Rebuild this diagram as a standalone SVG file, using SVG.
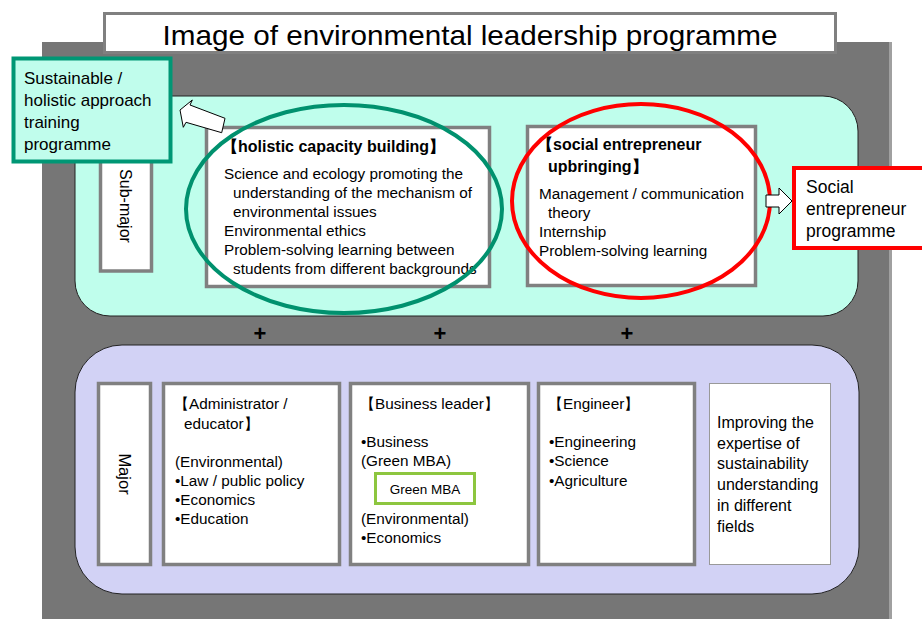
<svg xmlns="http://www.w3.org/2000/svg" width="922" height="619" viewBox="0 0 922 619">
<style>
text{font-family:"Liberation Sans",Arial,sans-serif;fill:#000}
.t14{font-size:15.3px}
.t15{font-size:16.5px}
.b{font-weight:bold;font-size:16px}
.gbox{fill:#fff;stroke:#808080;stroke-width:3.5}
.arrow{fill:#fff;stroke:#000;stroke-width:1}
.plus{font-size:22px;font-weight:bold}
</style>
<rect x="0" y="0" width="922" height="619" fill="#fff"/>
<g id="background">
<rect x="42" y="42" width="849" height="577" fill="#767676"/>
<rect x="889" y="42" width="3" height="577" fill="#a0a0a0"/>
</g>
<g id="title">
<rect x="104.5" y="13.5" width="731" height="39" fill="#fff" stroke="#808080" stroke-width="3"/>
<text x="470" y="45" font-size="28" text-anchor="middle" textLength="615" lengthAdjust="spacingAndGlyphs">Image of environmental leadership programme</text>
</g>
<g id="submajor-panel">
<path d="M110,96 H823 A35,35 0 0 1 858,131 V281 A35,35 0 0 1 823,316 H110 A35,35 0 0 1 75,281 V131 A35,35 0 0 1 110,96 Z" fill="#bffeec" stroke="#222" stroke-width="1"/>
</g>
<g id="major-panel">
<path d="M122,345 H812 A47,47 0 0 1 859,392 V547 A47,47 0 0 1 812,594 H122 A47,47 0 0 1 75,547 V392 A47,47 0 0 1 122,345 Z" fill="#d2d2f5" stroke="#222" stroke-width="1"/>
</g>
<g id="submajor-label">
<rect x="100.5" y="129" width="51" height="142" class="gbox"/>
<text transform="translate(120,206) rotate(90)" font-size="16" text-anchor="middle">Sub-major</text>
</g>
<g id="holistic">
<rect x="206.5" y="127.5" width="283" height="159" class="gbox"/>
<text x="222" y="152" class="b">【holistic capacity building】</text>
<text class="t14">
<tspan x="224" y="179">Science and ecology promoting the</tspan>
<tspan x="233" y="198">understanding of the mechanism of</tspan>
<tspan x="233" y="217">environmental issues</tspan>
<tspan x="224" y="236">Environmental ethics</tspan>
<tspan x="224" y="255">Problem-solving learning between</tspan>
<tspan x="233" y="274">students from different backgrounds</tspan>
</text>
</g>
<g id="social">
<rect x="527.5" y="126.5" width="228" height="159" class="gbox"/>
<text x="537" y="150" class="b">【social entrepreneur</text>
<text x="548" y="172" class="b">upbringing】</text>
<text class="t14">
<tspan x="539" y="199">Management / communication</tspan>
<tspan x="548" y="218">theory</tspan>
<tspan x="539" y="237">Internship</tspan>
<tspan x="539" y="256">Problem-solving learning</tspan>
</text>
</g>
<g id="ellipses">
<ellipse cx="344" cy="209" rx="158" ry="104" fill="none" stroke="#00916e" stroke-width="4"/>
<ellipse cx="641" cy="201" rx="129" ry="97" fill="none" stroke="#ff0000" stroke-width="4"/>
</g>
<g id="connectors">
<polygon class="arrow" points="180,110 192.3,100 190,105 225,118.3 221.7,132.7 186,122.3 183.3,127.3"/>
<polygon class="arrow" points="766,195 779,195 779,188 792,201 779,214 779,207 766,207"/>
</g>
<g id="sustainable-box">
<rect x="13.5" y="58.5" width="157" height="103" fill="#c0fdec" stroke="#009775" stroke-width="4"/>
<text font-size="17">
<tspan x="24" y="84">Sustainable /</tspan>
<tspan x="24" y="106">holistic approach</tspan>
<tspan x="24" y="128">training</tspan>
<tspan x="24" y="150">programme</tspan>
</text>
</g>
<g id="social-programme-box">
<rect x="794" y="168" width="130" height="80" fill="#fff" stroke="#ff0000" stroke-width="4"/>
<text font-size="17.5">
<tspan x="806" y="193">Social</tspan>
<tspan x="806" y="215">entrepreneur</tspan>
<tspan x="806" y="237">programme</tspan>
</text>
</g>
<g id="plus-signs">
<text x="260" y="341" text-anchor="middle" class="plus">+</text>
<text x="440" y="341" text-anchor="middle" class="plus">+</text>
<text x="627" y="341" text-anchor="middle" class="plus">+</text>
</g>
<g id="major-label">
<rect x="98.5" y="383.5" width="52" height="181" class="gbox"/>
<text transform="translate(119,474) rotate(90)" font-size="16.5" text-anchor="middle">Major</text>
</g>
<g id="administrator">
<rect x="163.5" y="383.5" width="176" height="181" class="gbox"/>
<text class="t14">
<tspan x="174" y="409">【Administrator /</tspan>
<tspan x="184" y="429">educator】</tspan>
<tspan x="175" y="467">(Environmental)</tspan>
<tspan x="175" y="486">•Law / public policy</tspan>
<tspan x="175" y="505">•Economics</tspan>
<tspan x="175" y="524">•Education</tspan>
</text>
</g>
<g id="business">
<rect x="350.5" y="383.5" width="178" height="181" class="gbox"/>
<text class="t14">
<tspan x="360" y="409">【Business leader】</tspan>
<tspan x="361" y="447">•Business</tspan>
<tspan x="361" y="466">(Green MBA)</tspan>
<tspan x="361" y="524">(Environmental)</tspan>
<tspan x="361" y="543">•Economics</tspan>
</text>
<rect x="375.5" y="473.5" width="99" height="30" fill="#fff" stroke="#8dc63f" stroke-width="3"/>
<text x="425" y="494" font-size="13.5" text-anchor="middle">Green MBA</text>
</g>
<g id="engineer">
<rect x="538.5" y="383.5" width="156" height="181" class="gbox"/>
<text class="t14">
<tspan x="548" y="409">【Engineer】</tspan>
<tspan x="549" y="447">•Engineering</tspan>
<tspan x="549" y="466">•Science</tspan>
<tspan x="549" y="486">•Agriculture</tspan>
</text>
</g>
<g id="improving">
<rect x="709.5" y="383.5" width="121" height="181" fill="#fff" stroke="#999" stroke-width="1"/>
<text font-size="16">
<tspan x="717" y="428">Improving the</tspan>
<tspan x="717" y="449">expertise of</tspan>
<tspan x="717" y="469">sustainability</tspan>
<tspan x="717" y="490">understanding</tspan>
<tspan x="717" y="511">in different</tspan>
<tspan x="717" y="532">fields</tspan>
</text>
</g>
</svg>
